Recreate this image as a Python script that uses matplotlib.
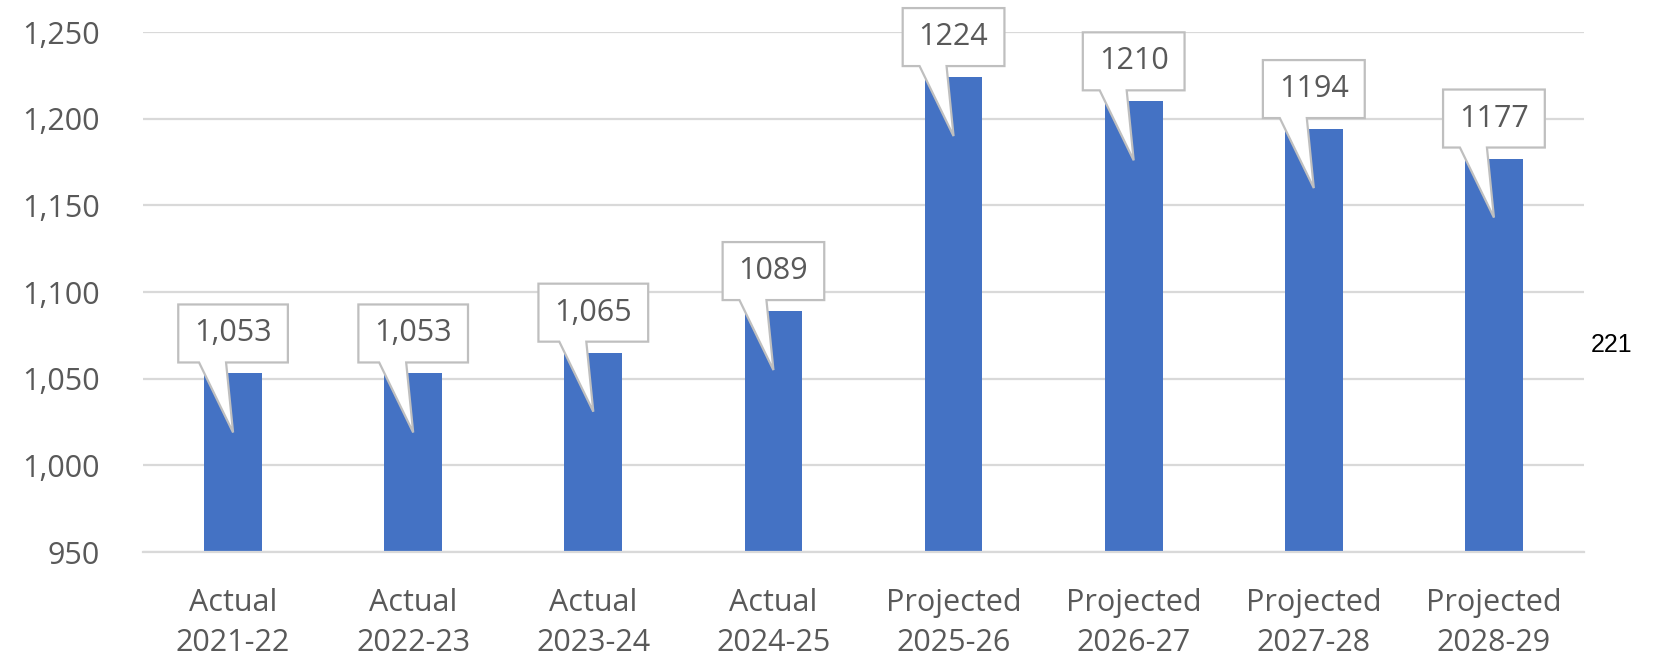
import matplotlib
matplotlib.use("Agg")
from matplotlib import pyplot as plt
from matplotlib.patches import Polygon
from matplotlib.ticker import FuncFormatter
import numpy as np

categories = ["Actual\n2021-22", "Actual\n2022-23", "Actual\n2023-24", "Actual\n2024-25",
              "Projected\n2025-26", "Projected\n2026-27", "Projected\n2027-28", "Projected\n2028-29"]
values = [1053, 1053, 1065, 1089, 1224, 1210, 1194, 1177]
value_labels = ["1,053", "1,053", "1,065", "1089", "1224", "1210", "1194", "1177"]
y_ticks = [950, 1000, 1050, 1100, 1150, 1200, 1250]
page_note = "221"

plt.rcParams['font.family'] = ['Open Sans', 'DejaVu Sans']
text_grey = "#595959"
bar_blue = "#4472C4"
grid_grey = "#d9d9d9"

fig = plt.figure(figsize=(16.6, 6.57), dpi=100)
ax = fig.add_axes([143 / 1660, 105 / 657, 1441 / 1660, 520 / 657])

x = np.arange(len(values))
ax.bar(x, values, width=0.32, color=bar_blue, zorder=2)

ax.set_xlim(-0.5, len(values) - 0.5)
ax.set_ylim(950, 1250)
ax.set_yticks(y_ticks)
ax.yaxis.set_major_formatter(FuncFormatter(lambda v, p: "{:,.0f}".format(v)))
ax.set_xticks(x)
ax.set_xticklabels(categories, linespacing=1.45)
ax.tick_params(axis="y", length=0, pad=31, labelsize=22, labelcolor=text_grey)
ax.tick_params(axis="x", length=0, pad=26, labelsize=22, labelcolor=text_grey)
ax.grid(axis="y", color=grid_grey, linewidth=1.6, zorder=0)
ax.set_axisbelow(True)
for side in ["top", "right", "left"]:
    ax.spines[side].set_visible(False)
ax.spines["bottom"].set_color(grid_grey)
ax.spines["bottom"].set_linewidth(1.6)

# callout labels (Excel style speech bubbles), built in pixel space
fig.canvas.draw()
renderer = fig.canvas.get_renderer()
to_px = ax.transData
to_data = ax.transData.inverted()
for i, (v, lab) in enumerate(zip(values, value_labels)):
    bx, by = to_px.transform((i, v))
    cy = by + 40
    t = ax.text(*to_data.transform((bx, cy)), lab, ha="center", va="center",
                fontsize=22, color=text_grey, zorder=5, clip_on=False)
    w = t.get_window_extent(renderer).width
    hw = w / 2 + 16
    hh = 29
    pts = [(bx - hw, cy + hh), (bx + hw, cy + hh), (bx + hw, cy - hh),
           (bx - 7, cy - hh), (bx, by - 59), (bx - 34, cy - hh), (bx - hw, cy - hh)]
    poly = Polygon(to_data.transform(pts), closed=True, facecolor="white",
                   edgecolor="#bfbfbf", linewidth=1.6, zorder=4, clip_on=False)
    ax.add_patch(poly)

fig.text(1612 / 1660, 1 - 345 / 657, page_note, ha="center", va="center",
         fontsize=18, color="black", family="Liberation Sans")

fig.savefig("out.png", dpi=100)
